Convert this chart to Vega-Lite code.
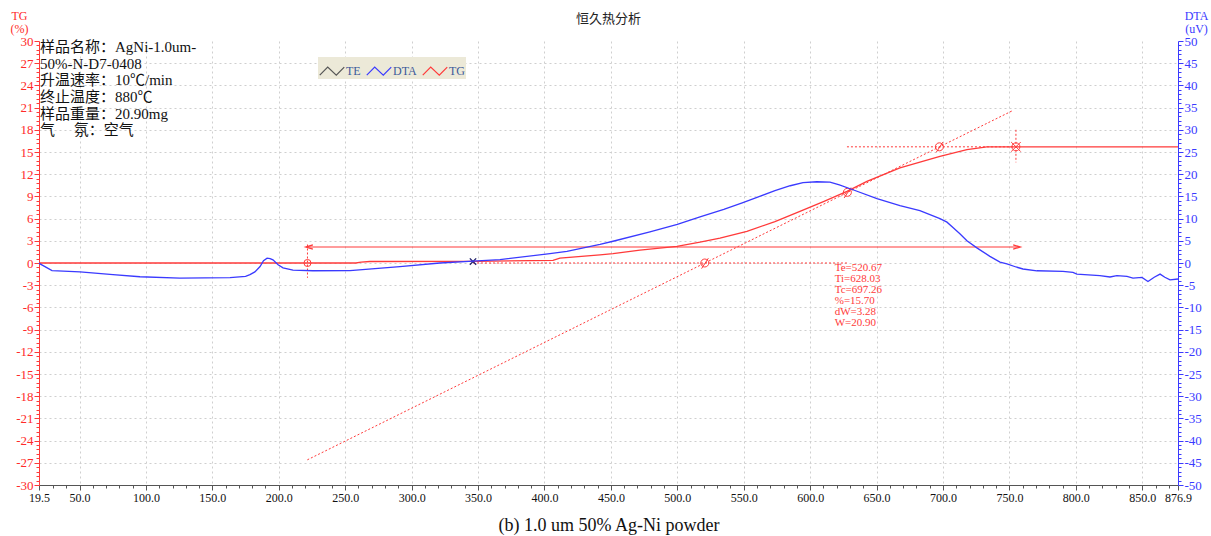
{
  "$schema": "https://vega.github.io/schema/vega-lite/v6.json",
  "width": 1139,
  "height": 444,
  "autosize": {"type": "none"},
  "padding": {"left": 39, "top": 41, "right": 33, "bottom": 51},
  "background": "white",
  "title": {"text": "恒久热分析", "font": "Noto Sans CJK SC", "fontSize": 13, "fontWeight": "normal", "color": "#222222", "anchor": "middle", "offset": -17},
  "config": {
    "view": {"stroke": null},
    "axis": {"labelFont": "Liberation Serif", "labelFontSize": 12, "titleFont": "Liberation Serif", "titleFontWeight": "normal", "gridColor": "#cfcfcf", "gridDash": [2, 3], "gridWidth": 1, "labelOverlap": false, "labelBound": false, "labelFlush": false}
  },
  "datasets": {
    "dta": [
      {"T": 19.5, "v": 0}, {"T": 20.3, "v": -0.2}, {"T": 29.3, "v": -1.7}, {"T": 50.4, "v": -2.0},
      {"T": 75.2, "v": -2.6}, {"T": 95.5, "v": -3.1}, {"T": 125.6, "v": -3.4}, {"T": 163.3, "v": -3.3},
      {"T": 175, "v": -3.0}, {"T": 178.3, "v": -2.6}, {"T": 182, "v": -2.0}, {"T": 185.9, "v": -0.8},
      {"T": 188.5, "v": 0.5}, {"T": 191.2, "v": 1.1}, {"T": 193.5, "v": 1.0}, {"T": 195.6, "v": 0.7},
      {"T": 199.5, "v": -0.4}, {"T": 203.2, "v": -1.1}, {"T": 210.7, "v": -1.6}, {"T": 225.7, "v": -1.75},
      {"T": 253.6, "v": -1.7}, {"T": 291.2, "v": -0.8}, {"T": 321.3, "v": 0}, {"T": 346.2, "v": 0.4},
      {"T": 366.5, "v": 0.75}, {"T": 404.1, "v": 2.1}, {"T": 416.9, "v": 2.6}, {"T": 441.8, "v": 4.2},
      {"T": 451.6, "v": 4.9}, {"T": 479.4, "v": 7.0}, {"T": 500, "v": 8.7}, {"T": 517.1, "v": 10.4},
      {"T": 535, "v": 12.1}, {"T": 549.4, "v": 13.6}, {"T": 562, "v": 15.0}, {"T": 573.5, "v": 16.3},
      {"T": 585, "v": 17.4}, {"T": 594.6, "v": 18.1}, {"T": 605, "v": 18.3}, {"T": 614.9, "v": 18.2},
      {"T": 622, "v": 17.6}, {"T": 632.2, "v": 16.5}, {"T": 650.3, "v": 14.5}, {"T": 667.6, "v": 12.9},
      {"T": 682.6, "v": 11.8}, {"T": 697.7, "v": 10.0}, {"T": 703, "v": 9.2}, {"T": 707.5, "v": 8.0},
      {"T": 712.7, "v": 6.6}, {"T": 718, "v": 5.0}, {"T": 725.5, "v": 3.4}, {"T": 735.3, "v": 1.5},
      {"T": 742.9, "v": 0.2}, {"T": 748.1, "v": -0.2}, {"T": 755, "v": -0.9}, {"T": 760.2, "v": -1.35},
      {"T": 770.7, "v": -1.75}, {"T": 790.3, "v": -1.9}, {"T": 797.8, "v": -2.1}, {"T": 800.8, "v": -2.5},
      {"T": 818.1, "v": -2.85}, {"T": 825.7, "v": -3.15}, {"T": 830.9, "v": -2.85}, {"T": 838.5, "v": -3.0},
      {"T": 843, "v": -3.4}, {"T": 849.8, "v": -3.25}, {"T": 854.3, "v": -4.15}, {"T": 859, "v": -3.2},
      {"T": 863.4, "v": -2.5}, {"T": 867, "v": -3.2}, {"T": 870.9, "v": -3.8}, {"T": 876.9, "v": -3.6}
    ],
    "tg": [
      {"T": 19.5, "v": 0}, {"T": 258, "v": 0}, {"T": 262, "v": 0.12}, {"T": 268.6, "v": 0.2},
      {"T": 346.2, "v": 0.22}, {"T": 406.4, "v": 0.35}, {"T": 411.6, "v": 0.65}, {"T": 441.8, "v": 1.1},
      {"T": 451.6, "v": 1.26}, {"T": 471.9, "v": 1.73}, {"T": 499.7, "v": 2.25}, {"T": 517.1, "v": 2.81},
      {"T": 532.1, "v": 3.36}, {"T": 552.4, "v": 4.28}, {"T": 573.5, "v": 5.59}, {"T": 592.3, "v": 6.98},
      {"T": 610, "v": 8.3}, {"T": 627.7, "v": 9.69}, {"T": 642.7, "v": 11.04}, {"T": 667.6, "v": 12.86},
      {"T": 697.7, "v": 14.42}, {"T": 718, "v": 15.33}, {"T": 733, "v": 15.7}, {"T": 876.9, "v": 15.7}
    ],
    "guides": [
      {"T": 221.5, "v": -26.6, "T2": 752.5, "v2": 20.6},
      {"T": 221.6, "v": 2.5, "T2": 221.6, "v2": -2.0},
      {"T": 754.9, "v": 18.0, "T2": 754.9, "v2": 13.6},
      {"T": 346.2, "v": 0, "T2": 627.7, "v2": 0},
      {"T": 627.7, "v": 15.7, "T2": 754.9, "v2": 15.7}
    ],
    "arrow": [{"T": 222, "v": 2.16, "T2": 756, "v2": 2.16}],
    "headLeft": [{"T": 223, "v": 2.16}],
    "headRight": [{"T": 755.5, "v": 2.16}],
    "startMark": [{"T": 221.6, "v": 0}],
    "pointMarks": [{"T": 520.67, "v": 0}, {"T": 628.03, "v": 9.55}, {"T": 697.26, "v": 15.7}],
    "endMark": [{"T": 754.9, "v": 15.7}],
    "te": [{"T": 346.2, "v": 0.2}],
    "info": [{"txt": "样品名称：AgNi-1.0um-\n50%-N-D7-0408\n升温速率：10℃/min\n终止温度：880℃\n样品重量：20.90mg\n气　 氛：空气"}],
    "result": [{"txt": "Te=520.67\nTi=628.03\nTc=697.26\n%=15.70\ndW=3.28\nW=20.90"}]
  },
  "layer": [
    {
      "layer": [
        {
          "data": {"name": "tg"},
          "mark": {"type": "line", "strokeWidth": 1.3},
          "encoding": {
            "x": {"field": "T", "type": "quantitative", "scale": {"domain": [19.5, 876.9], "nice": false, "zero": false},
              "axis": {
                "values": [19.5,30,40,50,60,70,80,90,100,110,120,130,140,150,160,170,180,190,200,210,220,230,240,250,260,270,280,290,300,310,320,330,340,350,360,370,380,390,400,410,420,430,440,450,460,470,480,490,500,510,520,530,540,550,560,570,580,590,600,610,620,630,640,650,660,670,680,690,700,710,720,730,740,750,760,770,780,790,800,810,820,830,840,850,860,870,876.9],
                "tickCount": 1000,
                "labelExpr": "(datum.value % 50 == 0 || datum.value == 19.5 || datum.value == 876.9) ? format(datum.value, '.1f') : ''",
                "grid": true,
                "gridOpacity": {"condition": {"test": "datum.value % 50 == 0", "value": 1}, "value": 0},
                "tickSize": {"condition": {"test": "datum.value % 50 == 0 || datum.value == 19.5 || datum.value == 876.9", "value": 5}, "value": 3},
                "domainColor": "#555555",
                "tickColor": "#555555",
                "labelColor": "#111111",
                "labelPadding": 2,
                "title": "(b) 1.0 um 50% Ag-Ni powder",
                "titleFontSize": 18,
                "titleColor": "#111111",
                "titleBaseline": "middle",
                "titleY": 40
              }
            },
            "y": {"field": "v", "type": "quantitative", "scale": {"domain": [-30, 30], "nice": false, "zero": false},
              "axis": {
                "orient": "left",
                "values": [-30,-29.4,-28.8,-28.2,-27.6,-27,-26.4,-25.8,-25.2,-24.6,-24,-23.4,-22.8,-22.2,-21.6,-21,-20.4,-19.8,-19.2,-18.6,-18,-17.4,-16.8,-16.2,-15.6,-15,-14.4,-13.8,-13.2,-12.6,-12,-11.4,-10.8,-10.2,-9.6,-9,-8.4,-7.8,-7.2,-6.6,-6,-5.4,-4.8,-4.2,-3.6,-3,-2.4,-1.8,-1.2,-0.6,0,0.6,1.2,1.8,2.4,3,3.6,4.2,4.8,5.4,6,6.6,7.2,7.8,8.4,9,9.6,10.2,10.8,11.4,12,12.6,13.2,13.8,14.4,15,15.6,16.2,16.8,17.4,18,18.6,19.2,19.8,20.4,21,21.6,22.2,22.8,23.4,24,24.6,25.2,25.8,26.4,27,27.6,28.2,28.8,29.4,30],
                "tickCount": 1000,
                "labelExpr": "abs(datum.value % 3) < 0.001 ? '' + datum.value : ''",
                "grid": true,
                "gridOpacity": {"condition": {"test": "abs(datum.value % 3) < 0.001 && abs(datum.value) < 29", "value": 1}, "value": 0},
                "tickSize": {"condition": {"test": "abs(datum.value % 3) < 0.001", "value": 5}, "value": 3},
                "domainColor": "#ff3a3a",
                "tickColor": "#ff3a3a",
                "labelColor": "#ff2a2a",
                "labelFontSize": 13,
                "labelPadding": 1,
                "title": ["TG", "(%)"],
                "titleColor": "#ff2a2a",
                "titleFontSize": 12,
                "titleAngle": 0,
                "titleAlign": "center",
                "titleBaseline": "top",
                "titleX": -20,
                "titleY": -31,
                "titleLineHeight": 13
              }
            },
            "color": {"datum": "TG", "type": "nominal",
              "scale": {"domain": ["TE", "DTA", "TG"], "range": ["#555555", "#3a3aff", "#ff3a3a"]},
              "legend": {"orient": "none", "legendX": 279, "legendY": 16, "direction": "horizontal", "columns": 3, "title": null,
                "fillColor": "#ece9d8", "padding": 1, "symbolType": "M-1,0.3L-0.35,-0.35L0.35,0.3L1,-0.35", "symbolSize": 600,
                "symbolStrokeWidth": 1.2, "symbolFillColor": "transparent", "labelFont": "Liberation Serif", "labelFontSize": 12,
                "labelColor": "#3c5a9a", "columnPadding": 3, "labelOffset": 1}
            }
          }
        },
        {
          "data": {"name": "guides"},
          "mark": {"type": "rule", "color": "#ff3a3a", "strokeWidth": 1, "strokeDash": [2, 2]},
          "encoding": {"x": {"field": "T", "type": "quantitative"}, "y": {"field": "v", "type": "quantitative"}, "x2": {"field": "T2"}, "y2": {"field": "v2"}}
        },
        {
          "data": {"name": "arrow"},
          "mark": {"type": "rule", "color": "#ff3a3a", "strokeWidth": 1.2},
          "encoding": {"x": {"field": "T", "type": "quantitative"}, "y": {"field": "v", "type": "quantitative"}, "x2": {"field": "T2"}, "y2": {"field": "v2"}}
        },
        {
          "data": {"name": "headLeft"},
          "mark": {"type": "point", "filled": false, "color": "#ff3a3a", "strokeWidth": 1.3, "size": 50, "opacity": 1, "shape": "M1,-0.6L-1,0L1,0.6"},
          "encoding": {"x": {"field": "T", "type": "quantitative"}, "y": {"field": "v", "type": "quantitative"}}
        },
        {
          "data": {"name": "headRight"},
          "mark": {"type": "point", "filled": false, "color": "#ff3a3a", "strokeWidth": 1.3, "size": 50, "opacity": 1, "shape": "M-1,-0.6L1,0L-1,0.6"},
          "encoding": {"x": {"field": "T", "type": "quantitative"}, "y": {"field": "v", "type": "quantitative"}}
        },
        {
          "data": {"name": "startMark"},
          "mark": {"type": "point", "filled": false, "color": "#ff3a3a", "strokeWidth": 1, "size": 50, "opacity": 1, "shape": "circle"},
          "encoding": {"x": {"field": "T", "type": "quantitative"}, "y": {"field": "v", "type": "quantitative"}}
        },
        {
          "data": {"name": "pointMarks"},
          "mark": {"type": "point", "filled": false, "color": "#ff3a3a", "strokeWidth": 1, "size": 64, "opacity": 1, "shape": "M-1,0A1,1,0,1,0,1,0A1,1,0,1,0,-1,0M-0.8,1.4L0.9,-1.2"},
          "encoding": {"x": {"field": "T", "type": "quantitative"}, "y": {"field": "v", "type": "quantitative"}}
        },
        {
          "data": {"name": "endMark"},
          "mark": {"type": "point", "filled": false, "color": "#ff3a3a", "strokeWidth": 1, "size": 64, "opacity": 1, "shape": "M-1,0A1,1,0,1,0,1,0A1,1,0,1,0,-1,0M-1.2,1.2L1.2,-1.2M-1.2,-1.2L1.2,1.2"},
          "encoding": {"x": {"field": "T", "type": "quantitative"}, "y": {"field": "v", "type": "quantitative"}}
        },
        {
          "data": {"name": "te"},
          "mark": {"type": "point", "filled": false, "color": "#22226e", "strokeWidth": 1.3, "size": 40, "opacity": 1, "shape": "M-1,-1L1,1M-1,1L1,-1"},
          "encoding": {"x": {"field": "T", "type": "quantitative"}, "y": {"field": "v", "type": "quantitative"}}
        },
        {
          "data": {"name": "info"},
          "mark": {"type": "text", "align": "left", "baseline": "top", "font": "Liberation Serif, Noto Sans CJK SC", "fontSize": 15, "lineHeight": 16.6, "lineBreak": "\n", "color": "#111111", "dx": 1},
          "encoding": {"x": {"datum": 19.5, "type": "quantitative"}, "y": {"datum": 30.1, "type": "quantitative"}, "text": {"field": "txt"}}
        },
        {
          "data": {"name": "result"},
          "mark": {"type": "text", "align": "left", "baseline": "top", "font": "Liberation Serif", "fontSize": 11, "lineHeight": 11, "lineBreak": "\n", "color": "#ff3a3a"},
          "encoding": {"x": {"datum": 618.5, "type": "quantitative"}, "y": {"datum": 0.1, "type": "quantitative"}, "text": {"field": "txt"}}
        }
      ]
    },
    {
      "data": {"name": "dta"},
      "mark": {"type": "line", "strokeWidth": 1.3},
      "encoding": {
        "x": {"field": "T", "type": "quantitative"},
        "y": {"field": "v", "type": "quantitative", "scale": {"domain": [-50, 50], "nice": false, "zero": false},
          "axis": {
            "orient": "right",
            "values": [-50,-49,-48,-47,-46,-45,-44,-43,-42,-41,-40,-39,-38,-37,-36,-35,-34,-33,-32,-31,-30,-29,-28,-27,-26,-25,-24,-23,-22,-21,-20,-19,-18,-17,-16,-15,-14,-13,-12,-11,-10,-9,-8,-7,-6,-5,-4,-3,-2,-1,0,1,2,3,4,5,6,7,8,9,10,11,12,13,14,15,16,17,18,19,20,21,22,23,24,25,26,27,28,29,30,31,32,33,34,35,36,37,38,39,40,41,42,43,44,45,46,47,48,49,50],
            "tickCount": 1000,
            "labelExpr": "datum.value % 5 == 0 ? '' + datum.value : ''",
            "grid": false,
            "domainColor": "#3a3aff",
            "tickColor": "#3a3aff",
            "labelColor": "#3a3aff",
            "labelFontSize": 13,
            "tickSize": {"condition": {"test": "datum.value % 5 == 0", "value": 5}, "value": 3},
            "labelPadding": 1,
            "title": ["DTA", "(uV)"],
            "titleColor": "#3a3aff",
            "titleFontSize": 12,
            "titleAngle": 0,
            "titleAlign": "center",
            "titleBaseline": "top",
            "titleX": 18,
            "titleY": -31,
            "titleLineHeight": 13
          }
        },
        "color": {"datum": "DTA", "type": "nominal"}
      }
    }
  ],
  "resolve": {"scale": {"y": "independent"}}
}
